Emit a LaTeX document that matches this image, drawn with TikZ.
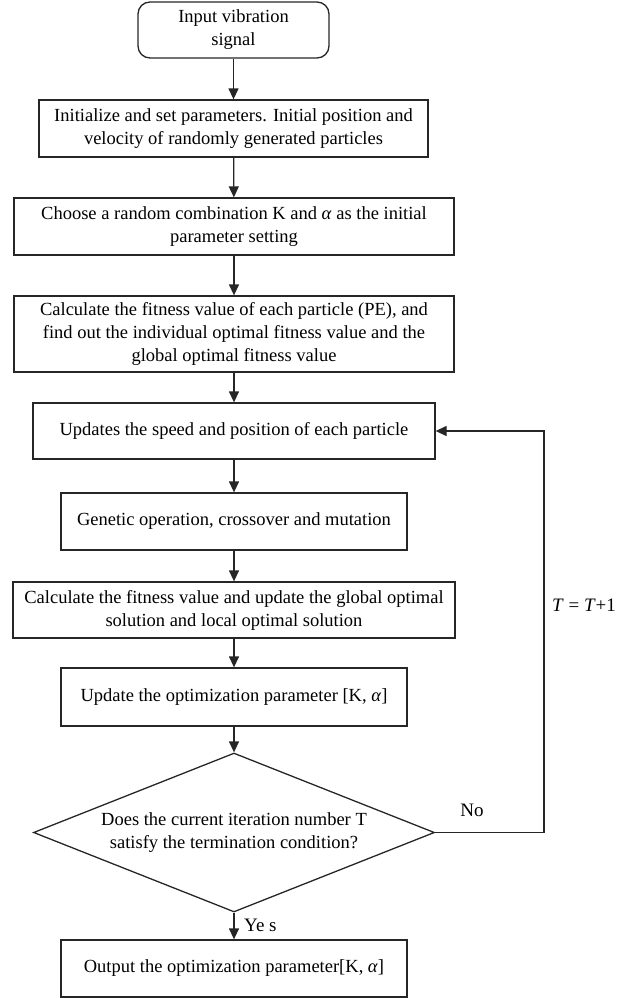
\documentclass[tikz,border=0pt]{standalone}
\usepackage{fontspec}
\setmainfont{Liberation Serif}
\usetikzlibrary{shapes.geometric,arrows.meta}
\begin{document}
\begin{tikzpicture}[x=1pt,y=-1pt,
  every node/.style={font=\fontsize{18.5}{23}\selectfont, inner sep=0pt, align=center},
  stepbox/.style={draw=black!85, line width=1.3pt, rectangle},
  startbox/.style={draw=black!85, line width=1.3pt, rectangle, rounded corners=12pt},
  decbox/.style={draw=black!85, line width=1.3pt, diamond, aspect=2.52},
  flow/.style={draw=black!85, line width=1.3pt, -{Triangle[length=11pt,width=10pt]}},
  lbl/.style={font=\fontsize{19}{22}\selectfont}
]
\useasboundingbox (0,0) rectangle (634,998);

\node[startbox, minimum width=191pt, minimum height=56pt] (s) at (233.5,30) {Input vibration\\signal};
\node[stepbox, minimum width=389pt, minimum height=57pt] (b2) at (233.5,128.5) {Initialize and set parameters. Initial position and\\velocity of randomly generated particles};
\node[stepbox, minimum width=440pt, minimum height=57pt] (b3) at (234,226.5) {Choose a random combination K and \textit{α} as the initial\\parameter setting};
\node[stepbox, minimum width=440pt, minimum height=76pt] (b4) at (234,334) {Calculate the fitness value of each particle (PE), and\\find out the individual optimal fitness value and the\\global optimal fitness value};
\node[stepbox, minimum width=402pt, minimum height=56pt] (b5) at (234,431) {Updates the speed and position of each particle};
\node[stepbox, minimum width=346pt, minimum height=57pt] (b6) at (234,521.5) {Genetic operation, crossover and mutation};
\node[stepbox, minimum width=442pt, minimum height=56pt] (b7) at (234,610) {Calculate the fitness value and update the global optimal\\solution and local optimal solution};
\node[stepbox, minimum width=346pt, minimum height=58pt] (b8) at (234,697) {Update the optimization parameter [K, \textit{α}]};
\node[decbox, minimum width=401pt, minimum height=159pt] (d) at (234,832.5) {Does the current iteration number T\\satisfy the termination condition?};
\node[stepbox, minimum width=346pt, minimum height=57pt] (out) at (234,968.5) {Output the optimization parameter[K, \textit{α}]};

\coordinate (r1) at (544,832.5);
\coordinate (r2) at (544,431);

\draw[flow] (s) -- (b2);
\draw[flow] (b2) -- (b3);
\draw[flow] (b3) -- (b4);
\draw[flow] (b4) -- (b5);
\draw[flow] (b5) -- (b6);
\draw[flow] (b6) -- (b7);
\draw[flow] (b7) -- (b8);
\draw[flow] (b8) -- (d);
\draw[flow] (d) -- (out);
\draw[flow] (d.east) -- (r1) -- (r2) -- (b5.east);

\node[lbl] (no) at (472,810) {No};
\node[lbl, anchor=west] (yes) at (244,925) {Ye s};
\node[lbl] (tt) at (584,605) {\textit{T} = \textit{T}+1};
\end{tikzpicture}
\end{document}
